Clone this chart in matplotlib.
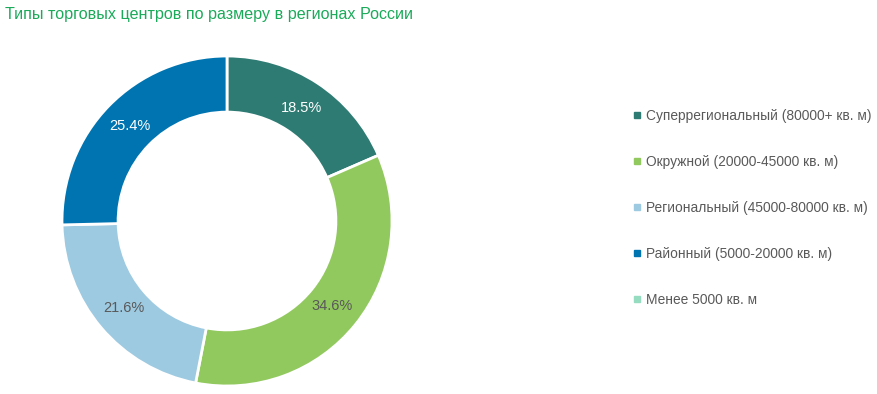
import matplotlib
matplotlib.use('Agg')
from matplotlib import pyplot as plt
from matplotlib.lines import Line2D

plt.rcParams['font.family'] = ['Liberation Sans', 'DejaVu Sans']

# данные
categories = ['Суперрегиональный (80000+ кв. м)', 'Окружной (20000-45000 кв. м)',
              'Региональный (45000-80000 кв. м)', 'Районный (5000-20000 кв. м)',
              'Менее 5000 кв. м']
shares = [18.5, 34.6, 21.6, 25.4, 0.0]
colors = ['#2E7B73', '#92C95F', '#9DCAE1', '#0074B0', '#96DCC0']
label_colors = ['white', '#595959', '#595959', 'white', '#595959']

fig = plt.figure(figsize=(8.78, 3.94), dpi=100)

# заголовок
fig.text(5 / 878, 1 - 14 / 394, 'Типы торговых центров по размеру в регионах России',
         color='#1AAA5A', fontsize=11.6, ha='left', va='center')

ax = fig.add_axes([62 / 878, 8 / 394, 330 / 878, 330 / 394])
idx = [i for i, v in enumerate(shares) if v > 0]
wedges, texts, autotexts = ax.pie([shares[i] for i in idx], colors=[colors[i] for i in idx],
                                  startangle=90, counterclock=False, radius=1,
                                  autopct='%.1f%%', pctdistance=0.82,
                                  wedgeprops=dict(width=0.34, edgecolor='white', linewidth=2))
for t, i in zip(autotexts, idx):
    t.set_color(label_colors[i])
    t.set_fontsize(10.5)
ax.set_xlim(-1, 1)
ax.set_ylim(-1, 1)
ax.set_aspect('equal')
ax.axis('off')

# легенда
handles = [Line2D([], [], marker='s', linestyle='', markersize=5, color=c) for c in colors]
leg = fig.legend(handles, categories, loc='upper left', bbox_to_anchor=(625 / 878, 1 - 103.5 / 394),
                 frameon=False, fontsize=9.9, labelspacing=2.32, handletextpad=0.1,
                 handlelength=1.0, borderaxespad=0)
for t in leg.get_texts():
    t.set_color('#595959')

plt.savefig('out.png', dpi=100)
